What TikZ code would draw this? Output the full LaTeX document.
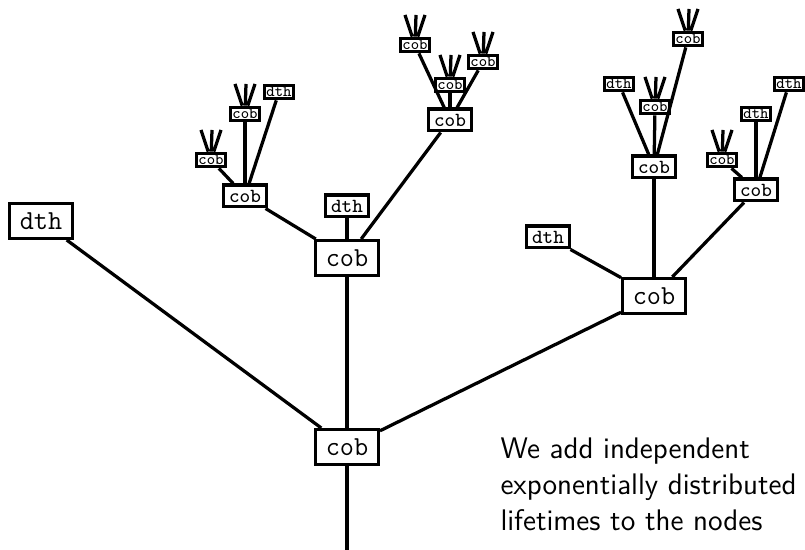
\documentclass[tikz,border=0pt]{standalone}
\usepackage{fontspec}
\begin{document}
\begin{tikzpicture}[x=0.4pt,y=-0.4pt,
  edge/.style={line width=1.3pt},
  bigbox/.style={draw,line width=1.3pt,fill=white,inner sep=0pt,minimum width=25.1pt,minimum height=13.9pt,font=\fontsize{11}{13}\ttfamily},
  midbox/.style={draw,line width=1.3pt,fill=white,inner sep=0pt,minimum width=17.1pt,minimum height=8.7pt,font=\fontsize{8}{9}\ttfamily},
  smallbox/.style={draw,line width=1.3pt,fill=white,inner sep=0pt,minimum width=11.5pt,minimum height=5.4pt,font=\fontsize{6.3}{7}\ttfamily},
  note/.style={anchor=base west,inner sep=0pt,font=\fontsize{11.9}{14}\sffamily}]
\useasboundingbox (0,0) rectangle (805,550);
% level 0 and 1
\node[bigbox] (root) at (347,447) {cob};
\node[bigbox] (dthL) at (41,221) {dth};
\node[bigbox] (cobM) at (347,258) {cob};
\node[bigbox] (cobR) at (654,296) {cob};
\coordinate (rootend) at (347,550);
% level 2
\node[midbox] (m1) at (245,196) {cob};
\node[midbox] (m2) at (347,206) {dth};
\node[midbox] (m3) at (450,120) {cob};
\node[midbox] (r1) at (548,237) {dth};
\node[midbox] (r2) at (654,167) {cob};
\node[midbox] (r3) at (756,190) {cob};
% level 3
\node[smallbox] (a1) at (211,160) {cob};
\node[smallbox] (a2) at (245,114) {cob};
\node[smallbox] (a3) at (279,92) {dth};
\node[smallbox] (b1) at (415,45) {cob};
\node[smallbox] (b2) at (450,85) {cob};
\node[smallbox] (b3) at (483,62) {cob};
\node[smallbox] (c1) at (619,84) {dth};
\node[smallbox] (c2) at (655,107) {cob};
\node[smallbox] (c3) at (688,39) {cob};
\node[smallbox] (d1) at (722,160) {cob};
\node[smallbox] (d2) at (756,114) {dth};
\node[smallbox] (d3) at (789,84) {dth};
% connectors
\draw[edge] (root) -- (rootend);
\foreach \p/\c in {root/dthL,root/cobM,root/cobR,
  cobM/m1,cobM/m2,cobM/m3,cobR/r1,cobR/r2,cobR/r3,
  m1/a1,m1/a2,m1/a3,m3/b1,m3/b2,m3/b3,r2/c1,r2/c2,r2/c3,r3/d1,r3/d2,r3/d3}
  \draw[edge] (\p) -- (\c);
% fans above the small cob nodes
\foreach \n in {a1,a2,b1,b2,b3,c2,c3,d1} {
  \path (\n.center) ++(-10,-30) coordinate (\n-f1)
        (\n.center) ++(1,-30) coordinate (\n-f2)
        (\n.center) ++(10,-30) coordinate (\n-f3);
  \draw[edge] (\n) -- (\n-f1) (\n) -- (\n-f2) (\n) -- (\n-f3);
}
% text
\node[note] (t1) at (500,459) {We add independent};
\node[note] (t2) at (500,495) {exponentially distributed};
\node[note] (t3) at (500,531) {lifetimes to the nodes};
\end{tikzpicture}
\end{document}
